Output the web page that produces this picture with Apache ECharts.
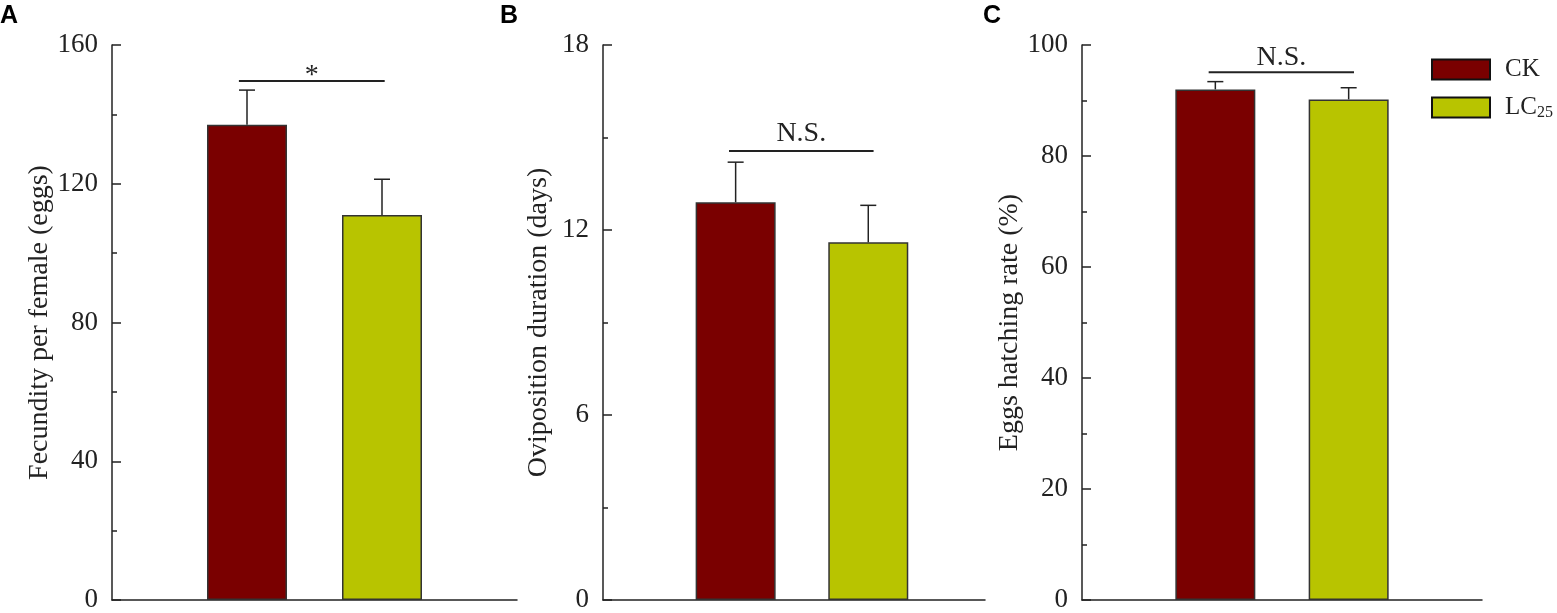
<!DOCTYPE html>
<html>
<head>
<meta charset="utf-8">
<script src="https://cdn.jsdelivr.net/npm/echarts@6/dist/echarts.min.js"></script>
<style>
html,body{margin:0;padding:0;background:#fff;}
#main{width:1557px;height:613px;}
</style>
</head>
<body>
<div id="main"></div>
<script>
// ---- data ----
const groups = ['CK', 'LC25'];
const positions = [1, 2];
const fecundityMean = [137, 111];
const fecunditySE = [10, 10.3];
const ovipositionMean = [12.9, 11.6];
const ovipositionSE = [1.3, 1.2];
const hatchingMean = [92.0, 90.2];
const hatchingSE = [1.4, 2.1];
const yTicksA = [0, 40, 80, 120, 160];
const yTicksB = [0, 6, 12, 18];
const yTicksC = [0, 20, 40, 60, 80, 100];
const sigA = { from: 0.94, to: 2.02, y: 149.6, label: '*' };
const sigB = { from: 0.95, to: 2.04, y: 14.56, label: 'N.S.' };
const sigC = { from: 0.95, to: 2.04, y: 95.1, label: 'N.S.' };
const yTitles = ['Fecundity per female (eggs)', 'Oviposition duration (days)', 'Eggs hatching rate (%)'];
const panelLetters = ['A', 'B', 'C'];

// ---- styles ----
const SERIF = '"Times New Roman","Liberation Serif","DejaVu Serif",serif';
const colors = { CK: '#7a0000', LC25: '#b8c400' };

const panels = [
  { mean: fecundityMean, se: fecunditySE, ticks: yTicksA, sig: sigA, grid: { left: 112, top: 45, width: 405, height: 555 }, xmax: 3, nameGap: 58, labelDy: -9 },
  { mean: ovipositionMean, se: ovipositionSE, ticks: yTicksB, sig: sigB, grid: { left: 603, top: 45, width: 382, height: 555 }, xmax: 2.88, nameGap: 50, labelDy: 3 },
  { mean: hatchingMean, se: hatchingSE, ticks: yTicksC, sig: sigC, grid: { left: 1082, top: 45, width: 400, height: 555 }, xmax: 3, nameGap: 48, labelDy: 1 }
];

const grid = [], xAxis = [], yAxis = [], series = [];
panels.forEach((p, i) => {
  grid.push(Object.assign({ containLabel: false, outerBoundsMode: 'none' }, p.grid));
  xAxis.push({
    gridIndex: i, type: 'value', min: 0, max: p.xmax,
    axisLine: { show: true, onZero: false, lineStyle: { color: '#222', width: 1.5 } },
    axisTick: { show: false }, axisLabel: { show: false }, splitLine: { show: false }
  });
  const step = p.ticks[1] - p.ticks[0];
  yAxis.push({
    gridIndex: i, type: 'value', min: p.ticks[0], max: p.ticks[p.ticks.length - 1], interval: step,
    name: yTitles[i], nameLocation: 'middle', nameGap: p.nameGap,
    nameTextStyle: { fontFamily: SERIF, fontSize: 28, color: '#222' },
    axisLine: { show: true, onZero: false, lineStyle: { color: '#222', width: 1.5 } },
    axisTick: { show: true, inside: true, length: 9, lineStyle: { color: '#222', width: 1.5 } },
    minorTick: { show: true, splitNumber: 2, length: 5, lineStyle: { color: '#222', width: 1.5 } },
    axisLabel: { fontFamily: SERIF, fontSize: 27, color: '#222', margin: 14 },
    splitLine: { show: false }
  });
  groups.forEach((g, k) => {
    series.push({
      type: 'bar', name: g, xAxisIndex: i, yAxisIndex: i,
      barWidth: 80, barGap: '-100%',
      itemStyle: { color: colors[g], borderColor: '#333', borderWidth: 1.5 },
      data: [[positions[k], p.mean[k]]],
      z: 2
    });
  });
  // error bars
  series.push({
    type: 'custom', xAxisIndex: i, yAxisIndex: i, z: 3, silent: true,
    data: positions.map((x, k) => [x, p.mean[k], p.se[k]]),
    renderItem: function (params, api) {
      const x = api.value(0), m = api.value(1), s = api.value(2);
      const b = api.coord([x, m]), t = api.coord([x, m + s]);
      const st = { stroke: '#222', lineWidth: 1.5 };
      return { type: 'group', children: [
        { type: 'line', shape: { x1: b[0], y1: b[1], x2: t[0], y2: t[1] }, style: st },
        { type: 'line', shape: { x1: t[0] - 8, y1: t[1], x2: t[0] + 8, y2: t[1] }, style: st }
      ] };
    }
  });
  // significance line + label
  series.push({
    type: 'custom', xAxisIndex: i, yAxisIndex: i, z: 3, silent: true,
    data: [[p.sig.from, p.sig.to, p.sig.y]],
    renderItem: function (params, api) {
      const a = api.coord([api.value(0), api.value(2)]);
      const c = api.coord([api.value(1), api.value(2)]);
      return { type: 'group', children: [
        { type: 'line', shape: { x1: a[0], y1: a[1], x2: c[0], y2: c[1] }, style: { stroke: '#222', lineWidth: 2 } },
        { type: 'text', x: (a[0] + c[0]) / 2, y: a[1] - p.labelDy,
          style: { text: p.sig.label, fontFamily: SERIF, fontSize: 28, fill: '#222', align: 'center', verticalAlign: 'bottom' } }
      ] };
    }
  });
});

const graphic = panelLetters.map((L, i) => ({
  type: 'text', left: [0, 500, 983][i], top: 4,
  style: { text: L, fontFamily: '"Liberation Sans",Arial,sans-serif', fontWeight: 'bold', fontSize: 25, fill: '#000' }
}));

const chart = echarts.init(document.getElementById('main'), null, { renderer: 'canvas' });
chart.setOption({
  animation: false,
  backgroundColor: '#fff',
  grid, xAxis, yAxis, series, graphic,
  legend: {
    data: groups, orient: 'vertical', left: 1431, top: 57, padding: 0,
    itemWidth: 58, itemHeight: 20, itemGap: 13, icon: 'rect',
    itemStyle: { borderColor: '#111', borderWidth: 2 },
    formatter: function (n) { return n === 'LC25' ? 'LC{sub|25}' : n; },
    textStyle: {
      fontFamily: SERIF, fontSize: 25, color: '#222', padding: [0, 0, 0, 10],
      rich: { sub: { fontFamily: SERIF, fontSize: 16, color: '#222', verticalAlign: 'bottom', padding: [10, 0, 0, 0] } }
    }
  }
});
</script>
</body>
</html>
